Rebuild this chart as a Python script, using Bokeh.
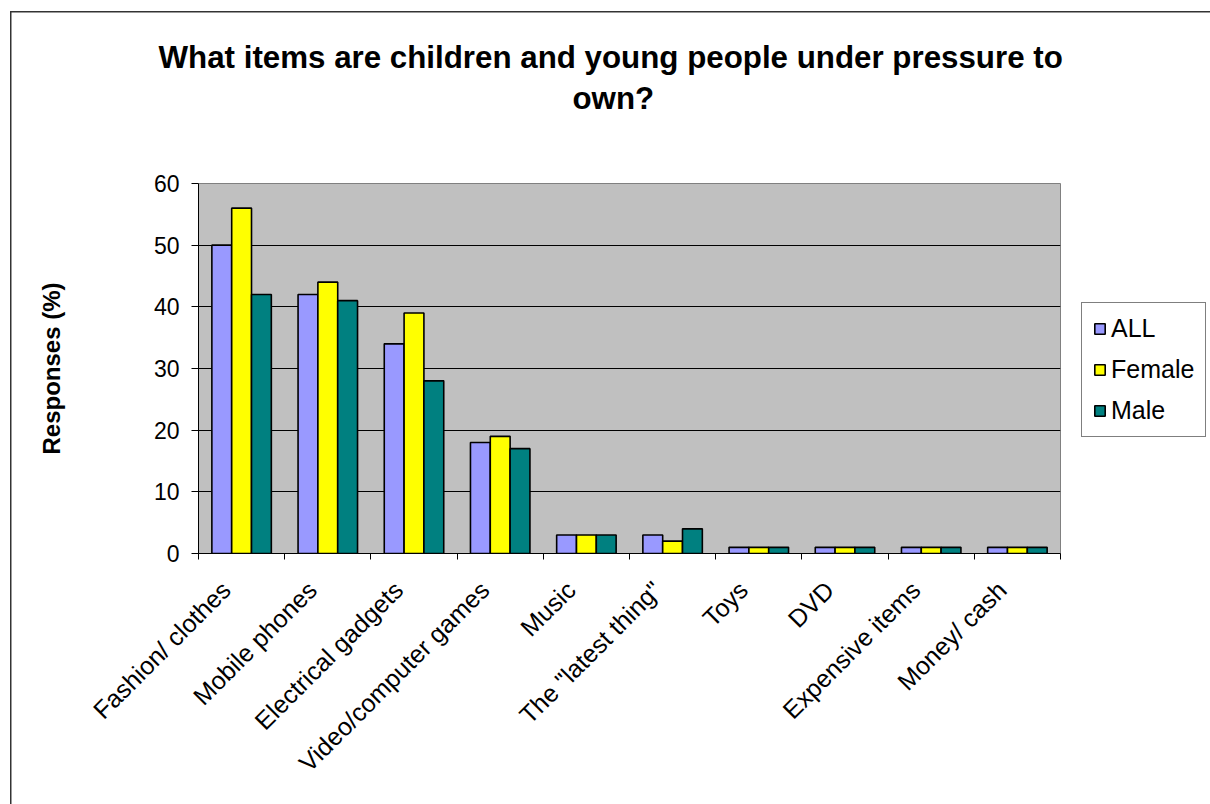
import math
from bokeh.plotting import figure
from bokeh.models import (ColumnDataSource, FixedTicker, Legend, LegendItem,
                          Title, Range1d, LinearAxis)
from bokeh.transform import dodge
from bokeh.embed import file_html
from bokeh.resources import INLINE

categories = ["Fashion/ clothes", "Mobile phones", "Electrical gadgets",
              "Video/computer games", "Music", "The \"latest thing\"", "Toys",
              "DVD", "Expensive items", "Money/ cash"]
all_vals = [50, 42, 34, 18, 3, 3, 1, 1, 1, 1]
female_vals = [56, 44, 39, 19, 3, 2, 1, 1, 1, 1]
male_vals = [42, 41, 28, 17, 3, 4, 1, 1, 1, 1]
y_ticks = [0, 10, 20, 30, 40, 50, 60]

series = [("ALL", all_vals, "#9999FF", -0.23),
          ("Female", female_vals, "#FFFF00", 0.0),
          ("Male", male_vals, "#008080", 0.23)]

FONT = "Liberation Sans"

centers = [i + 0.5 for i in range(len(categories))]
label_pos = [c - 0.18 for c in centers]
source = ColumnDataSource(dict(x=centers, ALL=all_vals, Female=female_vals, Male=male_vals))

# chart-area border (left and top edges) painted behind a transparent canvas border
border_css = ("linear-gradient(#333333, #333333) 10px 11px / 1.5px 100% no-repeat, "
              "linear-gradient(#333333, #333333) 10px 11px / 100% 1.5px no-repeat, white")

p = figure(frame_width=862, frame_height=370, output_backend="svg", toolbar_location=None,
           x_range=Range1d(0, len(categories)), y_range=Range1d(0, 60),
           min_border_left=198, min_border_right=150,
           min_border_top=183, min_border_bottom=251,
           background_fill_color="#C0C0C0", border_fill_color="white",
           border_fill_alpha=0,
           outline_line_color="#808080", outline_line_width=1,
           styles={"background": border_css})

renderers = []
for name, vals, color, off in series:
    r = p.vbar(x=dodge("x", off), top=name, width=0.23, bottom=0, source=source,
               fill_color=color, line_color="black", line_width=1.6)
    renderers.append((name, r))

# x axis: labels under category centres, ticks at category boundaries
xa = p.xaxis[0]
xa.ticker = FixedTicker(ticks=label_pos, minor_ticks=list(range(len(categories) + 1)))
xa.major_label_overrides = {c: lab for c, lab in zip(label_pos, categories)}
xa.major_tick_line_color = None
xa.minor_tick_line_color = "black"
xa.minor_tick_out = 6
xa.minor_tick_in = 0
xa.major_label_orientation = math.pi / 4
xa.major_label_text_font = FONT
xa.major_label_text_font_size = "25px"
xa.major_label_text_color = "black"
xa.major_label_standoff = 26
xa.axis_line_color = "black"

ya = p.yaxis[0]
ya.ticker = FixedTicker(ticks=y_ticks, minor_ticks=[])
ya.major_tick_out = 7
ya.major_tick_in = 0
ya.major_tick_line_color = "black"
ya.axis_line_color = "black"
ya.major_label_text_font = FONT
ya.major_label_text_font_size = "23px"
ya.major_label_text_color = "black"
ya.major_label_standoff = 12
ya.axis_label = "Responses (%)"
ya.axis_label_text_font = FONT
ya.axis_label_text_font_style = "bold"
ya.axis_label_text_font_size = "24px"
ya.axis_label_text_color = "black"
ya.axis_label_standoff = 86

p.xgrid.grid_line_color = None
p.ygrid.grid_line_color = "black"
p.ygrid.grid_line_width = 1
p.ygrid.ticker = FixedTicker(ticks=y_ticks)

legend = Legend(items=[LegendItem(label=n, renderers=[r]) for n, r in renderers],
                location=(21, 116), orientation="vertical",
                border_line_color="black", border_line_width=1,
                background_fill_color="white", background_fill_alpha=1,
                label_text_font=FONT, label_text_font_size="25px",
                label_text_color="black", glyph_width=13, glyph_height=13,
                label_height=25, label_width=0, label_standoff=5,
                spacing=12, padding=11, margin=0)
p.add_layout(legend, "right")

# blank strip between the frame and the title block (one white, unlabelled tick)
spacer = LinearAxis(ticker=FixedTicker(ticks=[0], minor_ticks=[]),
                    major_label_overrides={0: ""}, major_label_text_font_size="1px",
                    major_tick_out=66, major_tick_in=0, major_tick_line_color="white",
                    axis_line_color=None, major_label_standoff=0)
p.add_layout(spacer, "above")

# two-line chart title; the line added first sits closest to the frame
title_lines = ["What items are children and young people under pressure to", "own?"]
title_offsets = [-40, 374]
for line, off in reversed(list(zip(title_lines, title_offsets))):
    p.add_layout(Title(text=line, align="left", offset=off, standoff=4,
                       text_font=FONT, text_font_style="bold",
                       text_font_size="31.3px", text_color="black"), "above")

open("out.html", "w").write(file_html(p, INLINE))
